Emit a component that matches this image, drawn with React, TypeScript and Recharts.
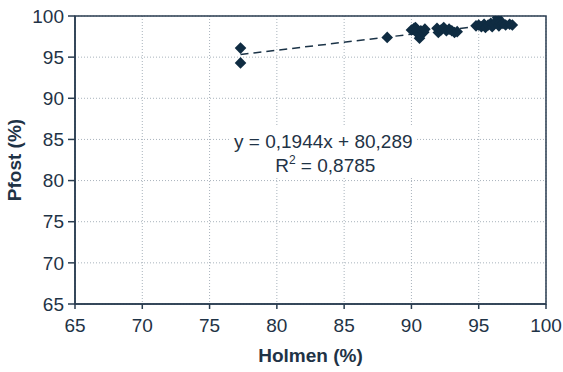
import { ScatterChart, Scatter, XAxis, YAxis, CartesianGrid, ReferenceArea, Label } from "recharts";

const holmen = [
  77.3, 77.3, 88.2,
  90.0, 90.2, 90.4, 90.5, 90.6, 90.7, 90.9, 91.0, 90.3,
  91.9, 92.0, 92.2, 92.4, 92.6, 92.8, 93.0, 93.2, 93.4,
  94.8, 95.0, 95.2, 95.4, 95.5, 95.7, 95.9, 96.0, 96.1, 96.3, 96.4, 96.5, 96.6, 96.8, 97.0, 97.3, 97.5,
];
const pfost = [
  96.1, 94.3, 97.4,
  98.3, 98.5, 98.1, 97.8, 97.3, 98.2, 98.0, 98.4, 98.6,
  98.5, 98.0, 98.3, 98.6, 98.2, 98.4, 98.2, 98.0, 98.1,
  98.8, 98.9, 98.7, 99.0, 98.6, 98.9, 99.1, 98.7, 99.0, 99.3, 99.8, 98.8, 99.2, 99.1, 98.9, 99.0, 98.9,
];
const xTicks = [65, 70, 75, 80, 85, 90, 95, 100];
const yTicks = [65, 70, 75, 80, 85, 90, 95, 100];
const slope = 0.1944;
const intercept = 80.289;

const points = holmen.map((x, i) => ({ x, y: pfost[i] }));
const xMin = Math.min(...holmen);
const xMax = Math.max(...holmen);
const trend = [xMin, xMax].map((x) => ({ x, y: slope * x + intercept }));

const ink = "#0f2c42";
const textColor = "#1f3346";
const font = "'Liberation Sans', Arial, sans-serif";

const Diamond = (props: any) => {
  const { cx, cy } = props;
  const r = 5.8;
  return <path d={`M${cx},${cy - r}L${cx + r},${cy}L${cx},${cy + r}L${cx - r},${cy}Z`} fill={ink} />;
};

const EquationLabel = (props: any) => {
  const { x, y, width } = props.viewBox;
  const cx = x + width / 2;
  return (
    <g fill={textColor} fontSize={19} fontFamily={font}>
      <text x={cx} y={y + 22} textAnchor="middle">y = 0,1944x + 80,289</text>
      <text x={cx + 2} y={y + 46} textAnchor="middle">
        R<tspan fontSize={12} dy={-8}>2</tspan><tspan dy={8}> = 0,8785</tspan>
      </text>
    </g>
  );
};

export default function App() {
  return (
    <div style={{ position: "absolute", left: 0, top: 0, background: "#fff" }}>
      <ScatterChart width={563} height={372} margin={{ top: 16, right: 17, bottom: 14, left: 0 }}>
        <CartesianGrid stroke="#a9b3bc" strokeDasharray="1 2" />
        <XAxis
          type="number"
          dataKey="x"
          domain={[65, 100]}
          ticks={xTicks}
          allowDataOverflow
          height={54}
          tickSize={5}
          tickMargin={10}
          stroke="#2a3d50"
          strokeWidth={1.5}
          tick={{ fill: textColor, fontSize: 19, fontFamily: font }}
        >
          <Label
            value="Holmen (%)"
            position="insideBottom"
            offset={-4}
            style={{ fill: textColor, fontSize: 19, fontWeight: "bold", fontFamily: font }}
          />
        </XAxis>
        <YAxis
          type="number"
          dataKey="y"
          domain={[65, 100]}
          ticks={yTicks}
          allowDataOverflow
          width={75}
          tickSize={7}
          tickMargin={4}
          stroke="#2a3d50"
          strokeWidth={1.5}
          tick={{ fill: textColor, fontSize: 19, fontFamily: font }}
        >
          <Label
            value="Pfost (%)"
            angle={-90}
            position="insideLeft"
            offset={14}
            style={{ textAnchor: "middle", fill: textColor, fontSize: 19, fontWeight: "bold", fontFamily: font }}
          />
        </YAxis>
        <ReferenceArea x1={76.5} x2={90.4} y1={80.4} y2={86.6} fill="#fff" fillOpacity={1} stroke="none" label={<EquationLabel />} />
        <ReferenceArea x1={65} x2={100} y1={65} y2={100} fill="none" stroke="#2a3d50" strokeWidth={1.5} />
        <Scatter
          data={trend}
          line={{ stroke: "#1b3347", strokeWidth: 1.5, strokeDasharray: "8 5" }}
          shape={() => null}
          isAnimationActive={false}
        />
        <Scatter data={points} shape={<Diamond />} isAnimationActive={false} />
      </ScatterChart>
    </div>
  );
}
